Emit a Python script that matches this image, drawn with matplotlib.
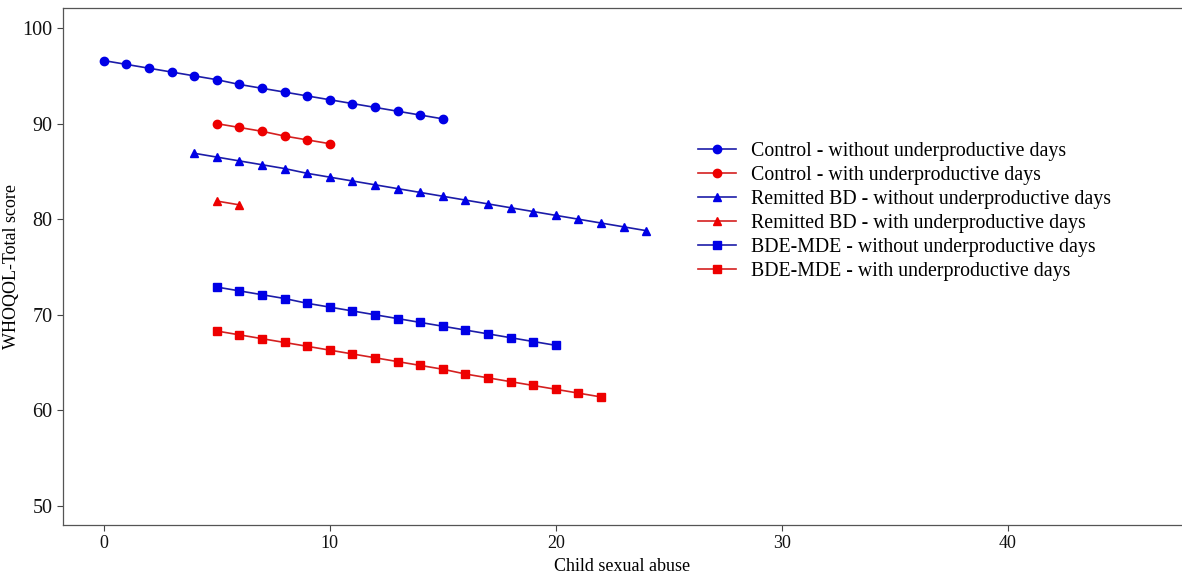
import numpy as np
import matplotlib
matplotlib.use('Agg')
import matplotlib.pyplot as plt

plt.rcParams['font.family'] = ['Liberation Serif', 'DejaVu Serif']

# 数据
ctrl_no_x = list(range(0, 16))
ctrl_no_y = [96.6, 96.2, 95.8, 95.4, 95.0, 94.6, 94.1, 93.7, 93.3, 92.9, 92.5, 92.1, 91.7, 91.3, 90.9, 90.5]
ctrl_yes_x = list(range(5, 11))
ctrl_yes_y = [90.0, 89.6, 89.2, 88.7, 88.3, 87.9]
rbd_no_x = list(range(4, 25))
rbd_no_y = [86.9, 86.5, 86.1, 85.7, 85.3, 84.8, 84.4, 84.0, 83.6, 83.2, 82.8,
            82.4, 82.0, 81.6, 81.2, 80.8, 80.4, 80.0, 79.6, 79.2, 78.8]
rbd_yes_x = [5, 6]
rbd_yes_y = [81.9, 81.5]
bde_no_x = list(range(5, 21))
bde_no_y = [72.9, 72.5, 72.1, 71.7, 71.2, 70.8, 70.4, 70.0, 69.6, 69.2, 68.8, 68.4, 68.0, 67.6, 67.2, 66.8]
bde_yes_x = list(range(5, 23))
bde_yes_y = [68.3, 67.9, 67.5, 67.1, 66.7, 66.3, 65.9, 65.5, 65.1, 64.7, 64.3, 63.8,
             63.4, 63.0, 62.6, 62.2, 61.8, 61.4]

labels = ['Control - without underproductive days',
          'Control - with underproductive days',
          'Remitted BD - without underproductive days',
          'Remitted BD - with underproductive days',
          'BDE-MDE - without underproductive days',
          'BDE-MDE - with underproductive days']

blue_line, blue_mk = '#1c1ca8', '#0000e6'
red_line, red_mk = '#d42020', '#ee0000'

fig = plt.figure(figsize=(11.82, 5.77), dpi=100)
ax = fig.add_axes([63/1182, 1-525/577, 1-63/1182, (525-8)/577])

series = [
    (ctrl_no_x, ctrl_no_y, 'o', blue_line, blue_mk),
    (ctrl_yes_x, ctrl_yes_y, 'o', red_line, red_mk),
    (rbd_no_x, rbd_no_y, '^', blue_line, blue_mk),
    (rbd_yes_x, rbd_yes_y, '^', red_line, red_mk),
    (bde_no_x, bde_no_y, 's', blue_line, blue_mk),
    (bde_yes_x, bde_yes_y, 's', red_line, red_mk),
]
for (x, y, m, lc, mc), lab in zip(series, labels):
    ax.plot(x, y, color=lc, lw=1.2, marker=m, markersize=6,
            markerfacecolor=mc, markeredgecolor=mc, label=lab)

ax.set_xlim(-1.8, 47.7)
ax.set_ylim(48, 102.1)
ax.set_xticks([0, 10, 20, 30, 40])
ax.set_yticks([50, 60, 70, 80, 90, 100])
ax.tick_params(axis='both', colors='#444444', length=4, width=0.8, labelcolor='#111111')
ax.tick_params(axis='y', labelsize=14.5)
ax.tick_params(axis='x', labelsize=13)
for s in ['left', 'bottom', 'top']:
    ax.spines[s].set_color('#555555')
    ax.spines[s].set_linewidth(0.9)
ax.spines['right'].set_visible(False)

ax.set_xlabel('Child sexual abuse', fontsize=13, labelpad=4)
ax.set_ylabel('WHOQOL-Total score', fontsize=13)
ax.yaxis.set_label_coords(-0.038, 0.5)

ax.legend(loc='upper left', bbox_to_anchor=(0.5605, 0.757), frameon=False,
          fontsize=14.3, handlelength=1.9, labelspacing=0.26, handletextpad=0.75,
          borderaxespad=0)

plt.savefig('out.png', dpi=100)
